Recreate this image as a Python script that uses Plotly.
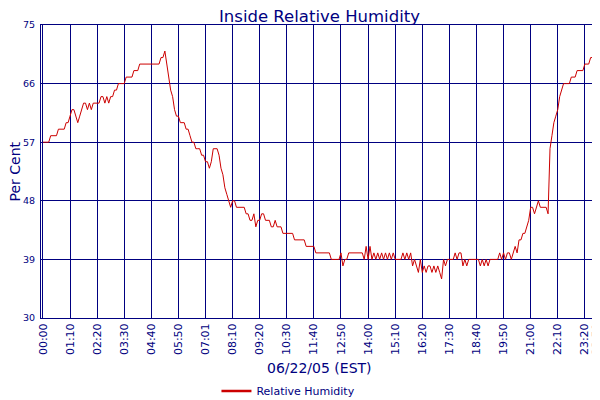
import plotly.graph_objects as go

# relative humidity (%), one sample every 5 minutes from 00:00 to 23:50
rh_00 = [57, 57, 57, 57, 58, 58, 58, 58, 59, 59, 59, 59]
rh_01 = [60, 60, 61, 62, 62, 61, 60, 61, 62, 63, 63, 62]
rh_02 = [63, 62, 63, 63, 63, 63, 64, 64, 63, 64, 63, 64]
rh_03 = [64, 65, 65, 66, 66, 66, 66, 67, 67, 67, 67, 68]
rh_04 = [68, 68, 69, 69, 69, 69, 69, 69, 69, 69, 69, 69]
rh_05 = [69, 70, 70, 71, 69, 67, 65, 64, 62, 61, 61, 60]
rh_06 = [60, 60, 59, 59, 58, 57, 57, 56, 56, 56, 55, 55]
rh_07 = [54, 54, 53, 54, 56, 56, 56, 55, 53, 52, 50, 49]
rh_08 = [48, 47, 48, 48, 47, 47, 47, 47, 47, 46, 46, 45]
rh_09 = [45, 46, 44, 45, 45, 46, 46, 45, 45, 45, 44, 44]
rh_10 = [45, 44, 44, 44, 43, 43, 43, 43, 43, 43, 42, 42]
rh_11 = [42, 42, 42, 42, 41, 41, 41, 41, 41, 40, 40, 40]
rh_12 = [40, 40, 40, 40, 40, 39, 39, 39, 39, 39, 40, 38]
rh_13 = [39, 39, 40, 40, 40, 40, 40, 40, 40, 40, 39, 41]
rh_14 = [39, 41, 39, 40, 39, 40, 39, 40, 39, 40, 39, 40]
rh_15 = [39, 40, 39, 39, 39, 39, 40, 39, 40, 39, 40, 38]
rh_16 = [39, 38, 37, 39, 37, 38, 37, 38, 38, 37, 38, 37]
rh_17 = [38, 37, 36, 39, 38, 39, 39, 39, 39, 40, 39, 40]
rh_18 = [40, 38, 39, 38, 39, 39, 39, 39, 39, 39, 38, 39]
rh_19 = [38, 39, 38, 39, 39, 39, 39, 39, 40, 39, 40, 39]
rh_20 = [40, 40, 39, 40, 41, 40, 42, 42, 43, 43, 44, 45]
rh_21 = [47, 47, 46, 47, 48, 47, 47, 47, 47, 46, 56, 58]
rh_22 = [60, 61, 62, 64, 65, 66, 66, 66, 66, 67, 67, 67]
rh_23 = [68, 68, 68, 68, 69, 69, 69, 70, 70, 70, 70]

humidity = (rh_00 + rh_01 + rh_02 + rh_03 + rh_04 + rh_05 + rh_06 + rh_07
            + rh_08 + rh_09 + rh_10 + rh_11 + rh_12 + rh_13 + rh_14 + rh_15
            + rh_16 + rh_17 + rh_18 + rh_19 + rh_20 + rh_21 + rh_22 + rh_23)
sample = list(range(len(humidity)))

tick_labels = ["00:00", "01:10", "02:20", "03:30", "04:40", "05:50", "07:01",
               "08:10", "09:20", "10:30", "11:40", "12:50", "14:00", "15:10",
               "16:20", "17:30", "18:40", "19:50", "21:00", "22:10", "23:20",
               "23:50"]
tick_samples = [14 * i for i in range(len(tick_labels) - 1)] + [sample[-1]]
y_ticks = [30, 39, 48, 57, 66, 75]

NAVY = "#000080"
FONT = "DejaVu Sans"

fig = go.Figure()
fig.add_trace(go.Scatter(x=sample, y=humidity, mode="lines", showlegend=False,
                         line=dict(color="#CC0000", width=1)))
# legend entry with a heavier stroke, like the original key
fig.add_trace(go.Scatter(x=[None], y=[None], mode="lines", name="Relative Humidity",
                         line=dict(color="#CC0000", width=2.5)))

# the page puts the figure 8px in from the top-left corner
fig.update_layout(
    width=600, height=400,
    margin=dict(l=33, r=10, t=17, b=90, autoexpand=False),
    paper_bgcolor="white", plot_bgcolor="white",
    font=dict(family=FONT, color=NAVY, size=11),
    showlegend=True,
    legend=dict(orientation="h", x=0.315, xanchor="left", y=-0.249, yanchor="middle",
                font=dict(size=11, color=NAVY, family=FONT), itemwidth=30),
    annotations=[
        dict(text="Inside Relative Humidity", xref="paper", yref="paper",
             x=0.5, y=1, yshift=9, yanchor="middle", showarrow=False,
             font=dict(size=16.5, color=NAVY, family=FONT)),
        dict(text="06/22/05 (EST)", xref="paper", yref="paper",
             x=0.5, y=0, yshift=-50, yanchor="middle", showarrow=False,
             font=dict(size=14, color=NAVY, family=FONT)),
        dict(text="Per Cent", xref="paper", yref="paper", textangle=-90,
             x=0, xshift=-27, xanchor="center", y=0.5, showarrow=False,
             font=dict(size=14, color=NAVY, family=FONT)),
    ],
)
fig.update_xaxes(range=[-1, 286.8], tickvals=tick_samples, ticktext=tick_labels,
                 tickangle=-90, tickfont=dict(size=11, color=NAVY), automargin=False,
                 showgrid=True, gridcolor=NAVY, gridwidth=1, zeroline=False,
                 showline=True, linecolor=NAVY, linewidth=1, mirror=True, ticks="")
fig.update_yaxes(range=[30, 75], tickvals=y_ticks, tickfont=dict(size=9.5, color=NAVY),
                 automargin=False, ticklabelstandoff=3,
                 showgrid=True, gridcolor=NAVY, gridwidth=1, zeroline=False,
                 showline=True, linecolor=NAVY, linewidth=1, mirror=True, ticks="")

fig.write_html("out.html")
